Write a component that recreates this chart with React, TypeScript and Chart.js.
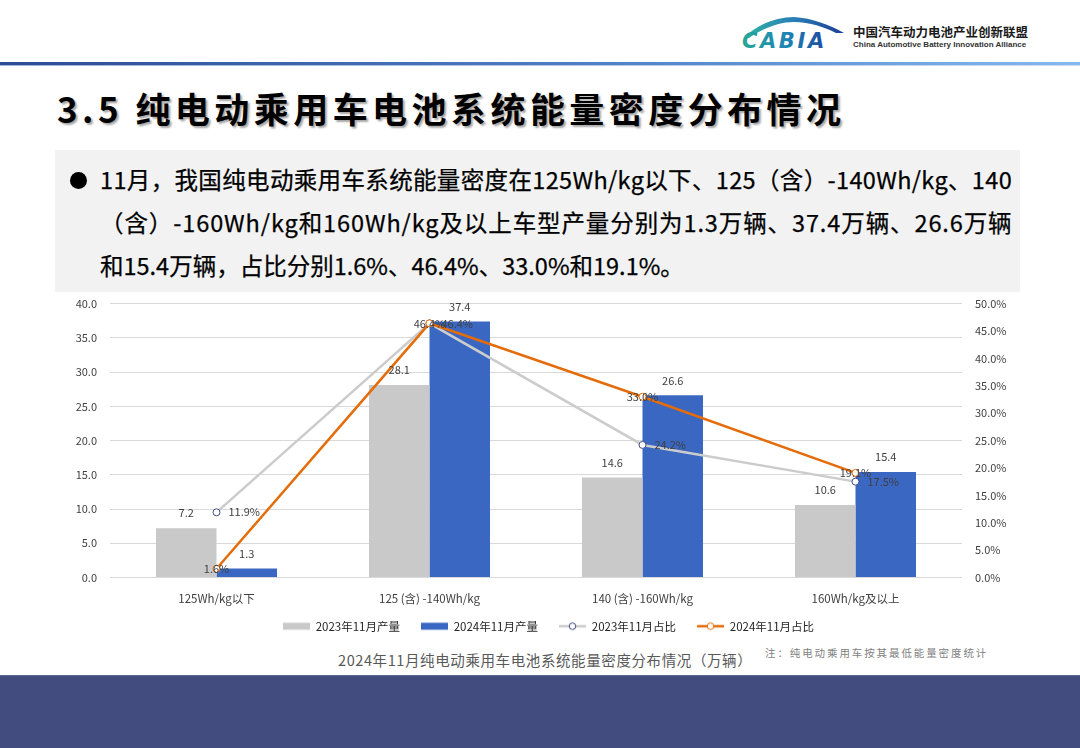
import React, { useEffect, useRef } from 'react';
import { Chart, registerables } from 'chart.js';

Chart.register(...registerables);

const categories = ['125Wh/kg以下', '125 (含) -140Wh/kg', '140 (含) -160Wh/kg', '160Wh/kg及以上'];
const prod2023 = [7.2, 28.1, 14.6, 10.6];
const prod2024 = [1.3, 37.4, 26.6, 15.4];
const share2023 = [11.9, 46.4, 24.2, 17.5];
const share2024 = [1.6, 46.4, 33.0, 19.1];
const seriesNames = ['2023年11月产量', '2024年11月产量', '2023年11月占比', '2024年11月占比'];

const GRAY_BAR = '#c9c9c9';
const BLUE_BAR = '#3a67c1';
const GRAY_LINE = '#cccccc';
const ORANGE = '#e46c0a';
const NAVY_MARK = '#3d4a85';
const FONT = '"Noto Sans CJK SC", "Noto Sans", sans-serif';

const ICON_GAP = 17;

function makeIcon(kind: 'bar' | 'line', color: string, mark?: string): HTMLCanvasElement {
  const c = document.createElement('canvas');
  c.width = 27 + ICON_GAP;
  c.height = 10;
  const ctx = c.getContext('2d')!;
  const x0 = ICON_GAP;
  if (kind === 'bar') {
    ctx.fillStyle = color;
    ctx.fillRect(x0, 1.5, 27, 7);
  } else {
    ctx.strokeStyle = color;
    ctx.lineWidth = 2.5;
    ctx.beginPath();
    ctx.moveTo(x0, 5);
    ctx.lineTo(x0 + 27, 5);
    ctx.stroke();
    ctx.beginPath();
    ctx.arc(x0 + 13.5, 5, 3.3, 0, Math.PI * 2);
    ctx.fillStyle = '#ffffff';
    ctx.fill();
    ctx.lineWidth = 1;
    ctx.strokeStyle = mark || color;
    ctx.stroke();
  }
  return c;
}

const labelPlugin = {
  id: 'valueLabels',
  afterDatasetsDraw(chart: any) {
    const ctx = chart.ctx;
    ctx.save();
    ctx.font = `11px ${FONT}`;
    ctx.fillStyle = '#404040';
    ctx.textBaseline = 'middle';
    chart.data.datasets.forEach((ds: any, di: number) => {
      const meta = chart.getDatasetMeta(di);
      meta.data.forEach((el: any, i: number) => {
        const v = ds.data[i] as number;
        if (ds.type === 'bar') {
          ctx.textAlign = 'center';
          ctx.fillText(v.toFixed(1), el.x, el.y - 15);
        } else if (di === 2) {
          ctx.textAlign = 'left';
          ctx.fillText(v.toFixed(1) + '%', el.x + 12, el.y);
        } else {
          ctx.textAlign = 'center';
          ctx.fillText(v.toFixed(1) + '%', el.x, el.y);
        }
      });
    });
    ctx.restore();
  },
};

function ChartBox() {
  const ref = useRef<HTMLCanvasElement | null>(null);
  useEffect(() => {
    if (!ref.current) return;
    const icons = [
      makeIcon('bar', GRAY_BAR),
      makeIcon('bar', BLUE_BAR),
      makeIcon('line', GRAY_LINE, NAVY_MARK),
      makeIcon('line', ORANGE, ORANGE),
    ];
    const chart = new Chart(ref.current, {
      type: 'bar',
      data: {
        labels: categories,
        datasets: [
          {
            type: 'bar',
            label: seriesNames[0],
            data: prod2023,
            backgroundColor: GRAY_BAR,
            yAxisID: 'y',
            order: 2,
            barPercentage: 1,
            categoryPercentage: 0.568,
          },
          {
            type: 'bar',
            label: seriesNames[1],
            data: prod2024,
            backgroundColor: BLUE_BAR,
            yAxisID: 'y',
            order: 2,
            barPercentage: 1,
            categoryPercentage: 0.568,
          },
          {
            type: 'line',
            label: seriesNames[2],
            data: share2023,
            borderColor: GRAY_LINE,
            borderWidth: 2.5,
            pointRadius: 3.5,
            pointBorderWidth: 1,
            pointBackgroundColor: '#ffffff',
            pointBorderColor: NAVY_MARK,
            yAxisID: 'y1',
            order: 1,
            tension: 0,
          },
          {
            type: 'line',
            label: seriesNames[3],
            data: share2024,
            borderColor: ORANGE,
            borderWidth: 2.5,
            pointRadius: 3.5,
            pointBorderWidth: 1,
            pointBackgroundColor: '#ffffff',
            pointBorderColor: ORANGE,
            yAxisID: 'y1',
            order: 0,
            tension: 0,
          },
        ] as any,
      },
      options: {
        animation: false,
        responsive: false,
        layout: { padding: { top: 3, left: 0, right: 0, bottom: 0 } },
        plugins: {
          tooltip: { enabled: false },
          legend: {
            position: 'bottom',
            labels: {
              usePointStyle: true,
              pointStyleWidth: 27 + ICON_GAP,
              padding: 4,
              color: '#262626',
              font: { family: FONT, size: 11.5 },
              generateLabels: () =>
                seriesNames.map((name, i) => ({
                  text: name,
                  pointStyle: icons[i],
                  fillStyle: 'transparent',
                  strokeStyle: 'transparent',
                  lineWidth: 0,
                  hidden: false,
                  datasetIndex: i,
                  fontColor: '#262626',
                })) as any,
            },
          },
        },
        scales: {
          x: {
            grid: { display: false, drawTicks: false },
            border: { display: false },
            ticks: { color: '#404040', font: { family: FONT, size: 11.5 }, padding: 14, maxRotation: 0 },
            afterFit: (s: any) => {
              s.height = 39;
            },
          },
          y: {
            position: 'left',
            min: 0,
            max: 40,
            grid: { color: '#d9d9d9', lineWidth: 1, drawTicks: false },
            border: { display: false },
            ticks: {
              stepSize: 5,
              padding: 13,
              color: '#404040',
              font: { family: FONT, size: 11 },
              callback: (v: any) => Number(v).toFixed(1),
            },
            afterFit: (s: any) => {
              s.width = 50;
            },
          },
          y1: {
            position: 'right',
            min: 0,
            max: 50,
            grid: { display: false, drawTicks: false },
            border: { display: false },
            ticks: {
              stepSize: 5,
              padding: 13,
              color: '#404040',
              font: { family: FONT, size: 11 },
              callback: (v: any) => Number(v).toFixed(1) + '%',
            },
            afterFit: (s: any) => {
              s.width = 58;
            },
          },
        },
      } as any,
      plugins: [labelPlugin],
    });
    return () => chart.destroy();
  }, []);
  return (
    <canvas
      ref={ref}
      width={960}
      height={358}
      style={{ position: 'absolute', left: 60, top: 284, width: 960, height: 358 }}
    />
  );
}

function Logo() {
  return (
    <>
      <svg
        width={112}
        height={44}
        style={{ position: 'absolute', left: 736, top: 10 }}
        viewBox="0 0 112 44"
      >
        <defs>
          <linearGradient id="lg1" x1="0" y1="0" x2="1" y2="0">
            <stop offset="0" stopColor="#2db3a2" />
            <stop offset="0.5" stopColor="#2a7fb8" />
            <stop offset="1" stopColor="#1c3d93" />
          </linearGradient>
          <linearGradient id="lg2" x1="0" y1="0" x2="1" y2="0">
            <stop offset="0" stopColor="#27a796" />
            <stop offset="0.5" stopColor="#1f86b5" />
            <stop offset="1" stopColor="#1d4aa0" />
          </linearGradient>
        </defs>
        <path
          d="M 8 28 C 20 15, 40 7, 58 7 C 76 8, 94 15, 108 23 L 100 23 C 88 17, 74 12, 58 12 C 42 12, 26 19, 13 28 Z"
          fill="url(#lg1)"
        />
        <text
          x={6}
          y={38}
          fontSize={21}
          fontWeight="bold"
          fontStyle="italic"
          fontFamily='"DejaVu Sans", sans-serif'
          letterSpacing={2.6}
          fill="url(#lg2)"
        >
          CABIA
        </text>
      </svg>
      <div
        style={{
          position: 'absolute',
          left: 853,
          top: 25,
          fontFamily: FONT,
          fontWeight: 700,
          fontSize: 12.5,
          lineHeight: '14px',
          color: '#1a1a1a',
          whiteSpace: 'nowrap',
        }}
      >
        中国汽车动力电池产业创新联盟
      </div>
      <div
        style={{
          position: 'absolute',
          left: 853,
          top: 40,
          fontFamily: '"Liberation Sans", Arial, sans-serif',
          fontWeight: 700,
          fontSize: 8,
          lineHeight: '10px',
          color: '#333',
          whiteSpace: 'nowrap',
        }}
      >
        China Automotive Battery Innovation Alliance
      </div>
    </>
  );
}

const bulletLines = [
  '11月，我国纯电动乘用车系统能量密度在125Wh/kg以下、125（含）-140Wh/kg、140',
  '（含）-160Wh/kg和160Wh/kg及以上车型产量分别为1.3万辆、37.4万辆、26.6万辆',
  '和15.4万辆，占比分别1.6%、46.4%、33.0%和19.1%。',
];
const bulletSpacing = [0.35, 0.9, 0];

export default function App() {
  return (
    <div
      style={{
        position: 'fixed',
        left: 0,
        top: 0,
        width: 1080,
        height: 748,
        background: '#ffffff',
        overflow: 'hidden',
        fontFamily: FONT,
      }}
    >
      <Logo />
      <div
        style={{
          position: 'absolute',
          left: 0,
          top: 62,
          width: 1080,
          height: 3,
          background: 'linear-gradient(to right, #2c4c94, #4f7fc6 55%, #86b9ee)',
        }}
      />
      <div
        style={{
          position: 'absolute',
          left: 0,
          top: 65,
          width: 1080,
          height: 1,
          background: 'linear-gradient(to right, #9fb2d8, #c9def5)',
        }}
      />
      <div
        style={{
          position: 'absolute',
          left: 57,
          top: 89,
          fontSize: 35,
          fontWeight: 700,
          lineHeight: '38px',
          letterSpacing: 4.45,
          color: '#000',
          whiteSpace: 'nowrap',
          textShadow: '2px 2px 2px rgba(0,0,0,0.35)',
        }}
      >
        3.5 纯电动乘用车电池系统能量密度分布情况
      </div>
      <div
        style={{
          position: 'absolute',
          left: 55,
          top: 150,
          width: 965,
          height: 142,
          background: '#f2f2f2',
        }}
      />
      <div
        style={{
          position: 'absolute',
          left: 70,
          top: 172,
          width: 17,
          height: 17,
          borderRadius: '50%',
          background: '#000',
        }}
      />
      {bulletLines.map((t, i) => (
        <div
          key={i}
          style={{
            position: 'absolute',
            left: 100,
            top: 158 + i * 43,
            fontSize: 23.5,
            lineHeight: '43px',
            height: 43,
            letterSpacing: bulletSpacing[i],
            color: '#000',
            whiteSpace: 'nowrap',
            WebkitTextStroke: '0.25px #000',
          }}
        >
          {t}
        </div>
      ))}
      <ChartBox />
      <div
        style={{
          position: 'absolute',
          left: 338,
          top: 651,
          fontSize: 14.5,
          lineHeight: '18px',
          letterSpacing: 0.6,
          color: '#595959',
          whiteSpace: 'nowrap',
        }}
      >
        2024年11月纯电动乘用车电池系统能量密度分布情况（万辆）
      </div>
      <div
        style={{
          position: 'absolute',
          left: 765,
          top: 646,
          fontSize: 10.5,
          lineHeight: '14px',
          letterSpacing: 1.9,
          color: '#7f7f7f',
          whiteSpace: 'nowrap',
        }}
      >
        注：纯电动乘用车按其最低能量密度统计
      </div>
      <div
        style={{
          position: 'absolute',
          left: 0,
          top: 675,
          width: 1080,
          height: 73,
          background: '#424c7e',
          borderTop: '1px solid #5d6692',
        }}
      />
    </div>
  );
}
